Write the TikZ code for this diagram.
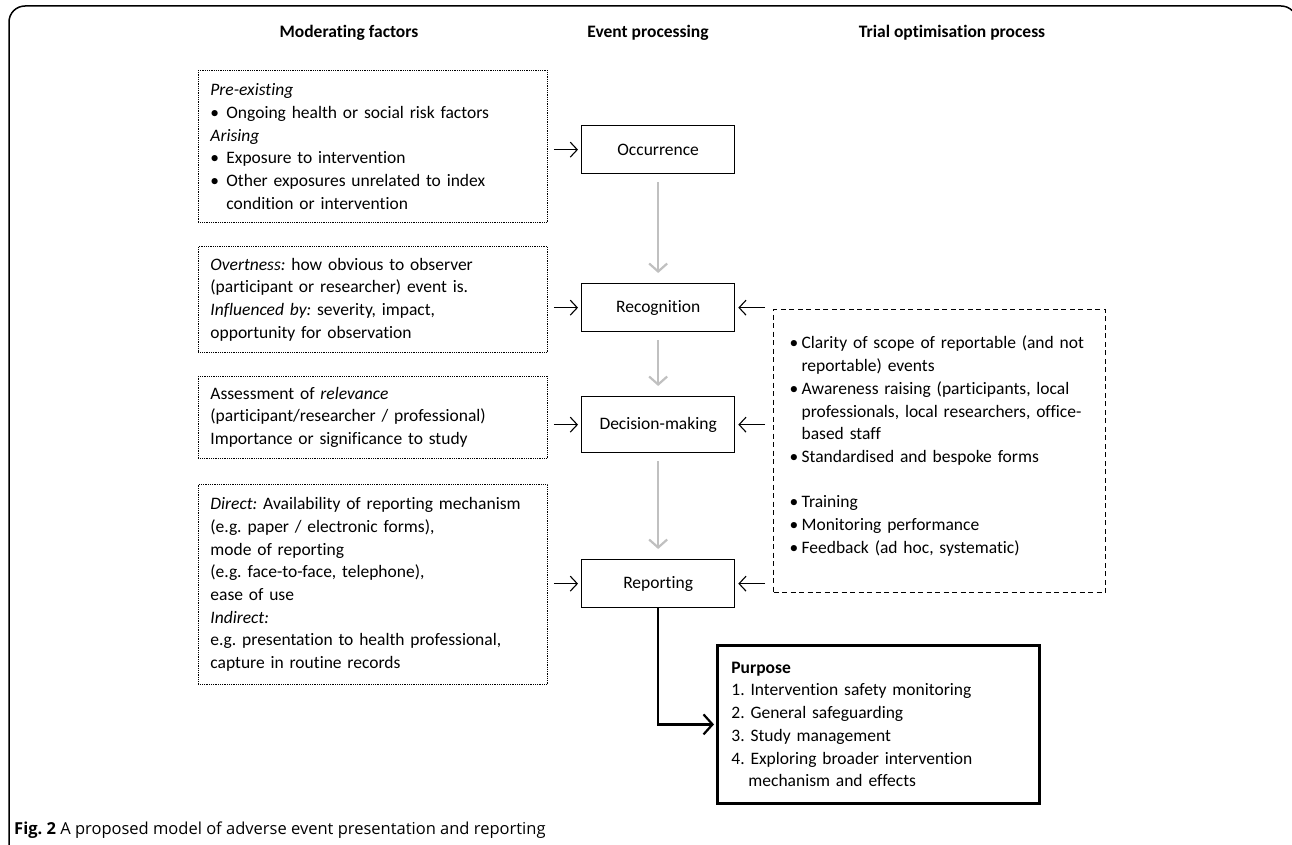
\documentclass[tikz,border=0pt]{standalone}
\usepackage{fontspec}
\setmainfont{Carlito}[Ligatures={CommonOff}]
\newfontfamily\capfont{Open Sans}
\usetikzlibrary{arrows.meta}
\frenchspacing
\newcommand{\bl}[1]{\mbox{\makebox[12pt][l]{\textbullet}#1}}
\newcommand{\cl}[1]{\mbox{\hspace{12pt}#1}}
\newcommand{\bla}[1]{\mbox{\makebox[16pt][l]{\textbullet}#1}}
\newcommand{\cla}[1]{\mbox{\hspace{16pt}#1}}
\tikzset{
  base/.style={font=\fontsize{17.5pt}{22.7pt}\selectfont},
  head/.style={font=\fontsize{17.5pt}{22.7pt}\selectfont\bfseries},
  modbox/.style={base, draw, densely dotted, line width=0.8pt, text width=325pt,
    inner xsep=12pt, inner ysep=0pt, align=left, anchor=north west},
  evbox/.style={base, draw, line width=1.3pt, minimum width=153pt, inner sep=0pt, anchor=north west},
  trialbox/.style={base, draw, dashed, dash pattern=on 5pt off 3.5pt, line width=1.2pt,
    text width=300pt, inner xsep=16pt, inner ysep=0pt, align=left, anchor=north west, minimum height=283pt},
  purpbox/.style={base, draw, line width=2.8pt, text width=294pt, inner xsep=14pt, inner ysep=0pt,
    align=left, anchor=north west, minimum height=158pt},
  inarr/.style={line width=1.1pt, -{Straight Barb[length=7pt,width=15pt,line width=1.1pt]}},
  grayarr/.style={line width=2.6pt, draw={rgb,255:red,192;green,192;blue,192},
    -{Straight Barb[length=8pt,width=18pt,line width=2.2pt]}, shorten <=8pt, shorten >=10pt},
  blkarr/.style={line width=2.4pt, -{Straight Barb[length=9pt,width=20pt,line width=2.2pt]}, shorten >=2pt},
  frame/.style={line width=1.5pt, rounded corners=16pt}
}
\begin{document}
\begin{tikzpicture}[x=1pt,y=-1pt]
\useasboundingbox (0,0) rectangle (1292,845);
\begin{scope}
  \clip (0,0) rectangle (1292,845);
  \draw[frame] (9,6) rectangle (1297,900);
\end{scope}

% headers
\node[head] (h1) at (349,33) {Moderating factors};
\node[head] (h2) at (648,33) {Event processing};
\node[head] (h3) at (952,33) {Trial optimisation process};

% moderating factor boxes
\node[modbox, minimum height=152pt] (m1) at (198,70) {%
\mbox{\textit{Pre-existing}}\\
\bla{Ongoing health or social risk factors}\\
\mbox{\textit{Arising}}\\
\bla{Exposure to intervention}\\
\bla{Other exposures unrelated to index}\\
\cla{condition or intervention}};

\node[modbox, minimum height=106pt] (m2) at (198,246) {%
\mbox{\textit{Overtness:} how obvious to observer}\\
\mbox{(participant or researcher) event is.}\\
\mbox{\textit{Influenced by:} severity, impact,}\\
\mbox{opportunity for observation}};

\node[modbox, minimum height=82pt] (m3) at (198,376) {%
\mbox{Assessment of \textit{relevance}}\\
\mbox{(participant/researcher / professional)}\\
\mbox{Importance or significance to study}};

\node[modbox, minimum height=200pt] (m4) at (198,484) {%
\mbox{\textit{Direct:} Availability of reporting mechanism}\\
\mbox{(e.g. paper / electronic forms),}\\
\mbox{mode of reporting}\\
\mbox{(e.g. face-to-face, telephone),}\\
\mbox{ease of use}\\
\mbox{\textit{Indirect:}}\\
\mbox{e.g. presentation to health professional,}\\
\mbox{capture in routine records}};

% event boxes
\node[evbox, minimum height=48pt] (occ) at (581,125) {Occurrence};
\node[evbox, minimum height=48pt] (rec) at (581,283) {Recognition};
\node[evbox, minimum height=56pt] (dec) at (581,396) {Decision-making};
\node[evbox, minimum height=48pt] (rep) at (581,559) {Reporting};

% trial optimisation box
\node[trialbox] (trial) at (773,309) {%
\bl{Clarity of scope of reportable (and not}\\
\cl{reportable) events}\\
\bl{Awareness raising (participants, local}\\
\cl{professionals, local researchers, office-}\\
\cl{based staff}\\
\bl{Standardised and bespoke forms}\\
\mbox{}\\
\bl{Training}\\
\bl{Monitoring performance}\\
\bl{Feedback (ad hoc, systematic)}\\[-10pt]
\mbox{}};

% purpose box
\node[purpbox] (purp) at (716,644) {%
\mbox{\textbf{Purpose}}\\
\mbox{1. Intervention safety monitoring}\\
\mbox{2. General safeguarding}\\
\mbox{3. Study management}\\
\mbox{4. Exploring broader intervention}\\
\mbox{\hspace{17pt}mechanism and effects}};

% caption
\node[anchor=west, font=\capfont\fontsize{16.5pt}{20pt}\selectfont, inner sep=0pt] (cap) at (14,830)
  {\textbf{Fig. 2} A proposed model of adverse event presentation and reporting};

% gray flow arrows
\draw[grayarr] (occ.south) -- (rec.north);
\draw[grayarr] (rec.south) -- (dec.north);
\draw[grayarr] (dec.south) -- (rep.north);

% arrows from moderating factors
\draw[inarr, shorten <=6pt, shorten >=3pt] (m1.east |- occ.west) -- (occ.west);
\draw[inarr, shorten <=6pt, shorten >=3pt] (m2.east |- rec.west) -- (rec.west);
\draw[inarr, shorten <=6pt, shorten >=3pt] (m3.east |- dec.west) -- (dec.west);
\draw[inarr, shorten <=6pt, shorten >=3pt] (m4.east |- rep.west) -- (rep.west);

% arrows from trial optimisation
\draw[inarr, shorten <=8pt, shorten >=3pt] (trial.west |- rec.east) -- (rec.east);
\draw[inarr, shorten <=8pt, shorten >=3pt] (trial.west |- dec.east) -- (dec.east);
\draw[inarr, shorten <=8pt, shorten >=3pt] (trial.west |- rep.east) -- (rep.east);

% reporting to purpose
\draw[blkarr] (rep.south) |- (purp.west);
\end{tikzpicture}
\end{document}
